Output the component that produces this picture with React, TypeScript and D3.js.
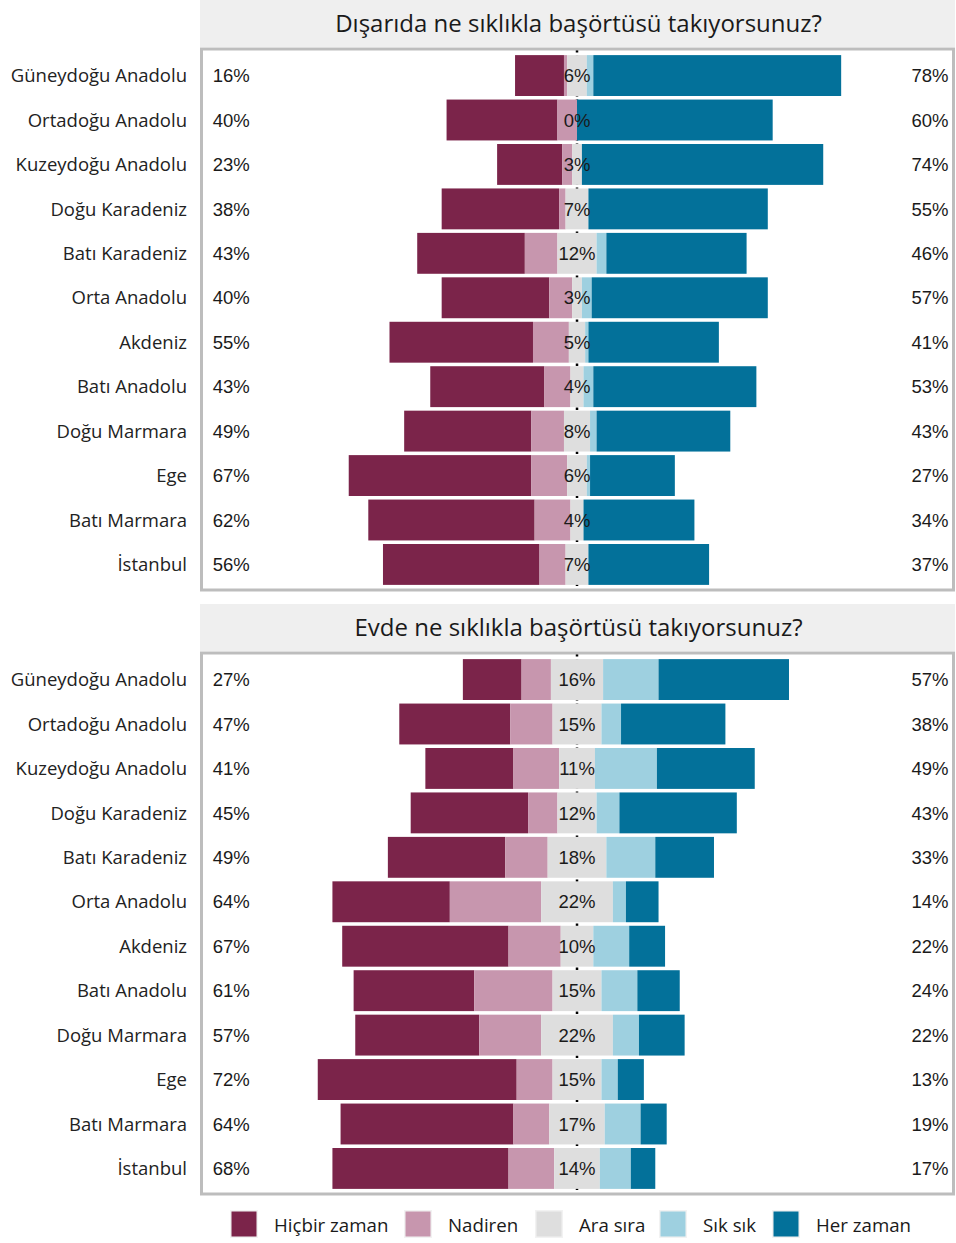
import React from 'react';
import * as d3 from 'd3';

const regions = [
  'Güneydoğu Anadolu', 'Ortadoğu Anadolu', 'Kuzeydoğu Anadolu', 'Doğu Karadeniz',
  'Batı Karadeniz', 'Orta Anadolu', 'Akdeniz', 'Batı Anadolu', 'Doğu Marmara',
  'Ege', 'Batı Marmara', 'İstanbul',
];

const answers = ['Hiçbir zaman', 'Nadiren', 'Ara sıra', 'Sık sık', 'Her zaman'];
const colors = ['#7B244A', '#C796AE', '#DEDEDE', '#9ED0E0', '#03719A'];

// Dışarıda
const outHicbir = [15, 34, 20, 36, 33, 33, 44, 35, 39, 56, 51, 48];
const outNadiren = [1, 6, 3, 2, 10, 7, 11, 8, 10, 11, 11, 8];
const outArasira = [6, 0, 3, 7, 12, 3, 5, 4, 8, 6, 4, 7];
const outSiksik = [2, 0, 0, 0, 3, 3, 1, 3, 2, 1, 0, 0];
const outHerzaman = [76, 60, 74, 55, 43, 54, 40, 50, 41, 26, 34, 37];

// Evde
const homeHicbir = [18, 34, 27, 36, 36, 36, 51, 37, 38, 61, 53, 54];
const homeNadiren = [9, 13, 14, 9, 13, 28, 16, 24, 19, 11, 11, 14];
const homeArasira = [16, 15, 11, 12, 18, 22, 10, 15, 22, 15, 17, 14];
const homeSiksik = [17, 6, 19, 7, 15, 4, 11, 11, 8, 5, 11, 9.5];
const homeHerzaman = [40, 32, 30, 36, 18, 10, 11, 13, 14, 8, 8, 7.5];

const panels = [
  { title: 'Dışarıda ne sıklıkla başörtüsü takıyorsunuz?', top: 0,
    series: [outHicbir, outNadiren, outArasira, outSiksik, outHerzaman] },
  { title: 'Evde ne sıklıkla başörtüsü takıyorsunuz?', top: 604,
    series: [homeHicbir, homeNadiren, homeArasira, homeSiksik, homeHerzaman] },
];

const W = 956;
const H = 1243;
const left = 201;
const right = 954;
const stripH = 47;
const bodyH = 540;
const sans = '"Open Sans", "Noto Sans", sans-serif';
const arial = '"Liberation Sans", Arial, sans-serif';

const x = d3.scaleLinear().domain([-115.3, 115.6]).range([left, right]);

const Panel = ({ p }: { p: typeof panels[0] }) => {
  const bodyTop = p.top + stripH + 3;
  const y = d3.scalePoint<string>().domain(regions).range([bodyTop, bodyTop + bodyH]).padding(0.575);
  const bh = y.step() * 0.92;
  const [hb, nd, ar, sk, hz] = p.series;
  return (
    <g>
      <rect x={left - 1} y={p.top} width={right - left + 2} height={stripH} fill="#efefef" />
      <text x={(left + right) / 2 + 1} y={p.top + stripH / 2 + 2} textAnchor="middle" dominantBaseline="middle"
        fontFamily={sans} fontSize={24} fill="#1a1a1a">{p.title}</text>
      <line x1={x(0)} x2={x(0)} y1={bodyTop} y2={bodyTop + bodyH} stroke="#000" strokeWidth={2.5} strokeDasharray="2.5,3" />
      {regions.map((r, i) => {
        const cy = y(r)!;
        const half = ar[i] / 2;
        const segs = [
          [-(half + nd[i] + hb[i]), -(half + nd[i])],
          [-(half + nd[i]), -half],
          [-half, half],
          [half, half + sk[i]],
          [half + sk[i], half + sk[i] + hz[i]],
        ];
        return (
          <g key={r}>
            {segs.map(([a, b], k) => b > a ? (
              <rect key={k} x={x(a)} y={cy - bh / 2} width={x(b) - x(a)} height={bh} fill={colors[k]} />
            ) : null)}
            <text x={x(0)} y={cy} dy="0.36em" textAnchor="middle" fontFamily={arial} fontSize={18.5} fill="#1a1a1a">
              {Math.round(ar[i])}%
            </text>
            <text x={x(-111.7)} y={cy} dy="0.36em" textAnchor="start" fontFamily={arial} fontSize={18.5} fill="#1a1a1a">
              {Math.round(hb[i] + nd[i])}%
            </text>
            <text x={x(113.9)} y={cy} dy="0.36em" textAnchor="end" fontFamily={arial} fontSize={18.5} fill="#1a1a1a">
              {Math.round(sk[i] + hz[i])}%
            </text>
            <text x={187} y={cy} dy="0.36em" textAnchor="end" fontFamily={sans} fontSize={18.5} fill="#222">
              {r}
            </text>
          </g>
        );
      })}
      <rect x={left + 0.5} y={bodyTop - 1} width={right - left - 1} height={bodyH + 1} fill="none" stroke="#bdbdbd" strokeWidth={3} />
    </g>
  );
};

const legendX = [230, 404, 535, 659, 772];

const App: React.FC = () => {
  return (
    <div style={{ position: 'absolute', left: 0, top: 0 }}>
      <svg width={W} height={H} style={{ display: 'block', background: '#fff' }}>
        {panels.map(p => <Panel key={p.title} p={p} />)}
        {answers.map((a, i) => (
          <g key={a} transform={`translate(${legendX[i]},1210)`}>
            <rect x={0} y={0} width={28} height={28} fill="#f2f2f2" />
            <rect x={1.5} y={1.5} width={25} height={25} fill={colors[i]} />
            <text x={44} y={15} dy="0.36em" fontFamily={sans} fontSize={18.7} fill="#1a1a1a">{a}</text>
          </g>
        ))}
      </svg>
    </div>
  );
};

export default App;
